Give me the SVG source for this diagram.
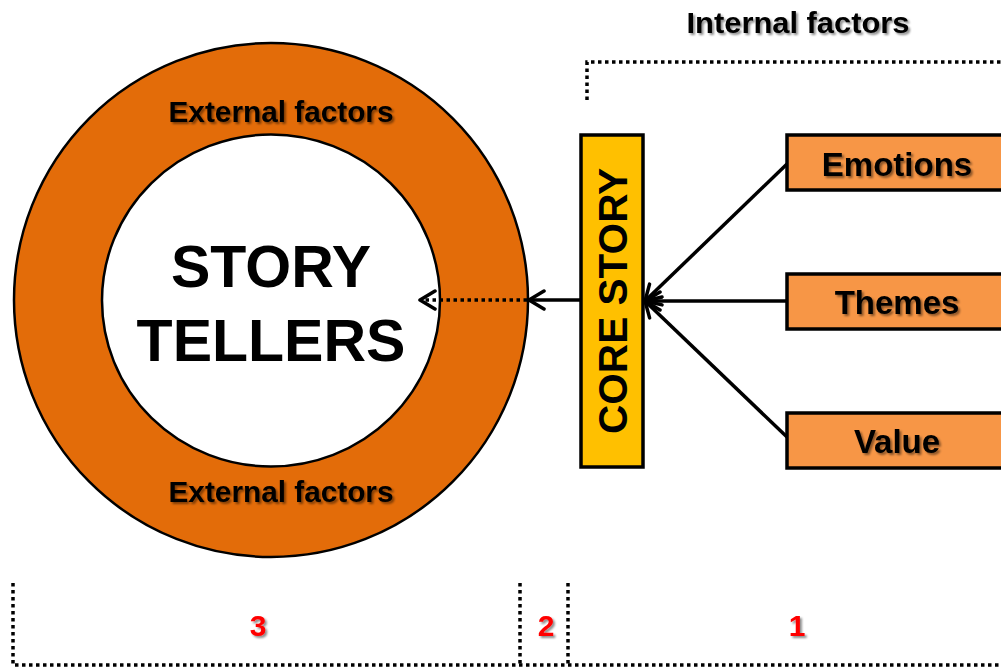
<svg xmlns="http://www.w3.org/2000/svg" width="1001" height="668" viewBox="0 0 1001 668">
<defs>
<marker id="open" viewBox="0 0 22 22" refX="19" refY="11" markerWidth="22" markerHeight="22" markerUnits="userSpaceOnUse" orient="auto">
<path d="M4,2 L19,11 L4,20" fill="none" stroke="#000" stroke-width="3.5" stroke-linecap="round" stroke-linejoin="round"/>
</marker>
<filter id="sh" x="-10%" y="-20%" width="130%" height="160%">
<feDropShadow dx="2" dy="2" stdDeviation="1.2" flood-color="#000" flood-opacity="0.45"/>
</filter>
</defs>
<style>
text{font-family:"Liberation Sans",Arial,sans-serif;font-weight:bold;text-anchor:middle;fill:#000}
.lbl{font-size:33px;filter:url(#sh)}
.ext{font-size:29px;filter:url(#sh)}
.big{font-size:59px}
.num{font-size:30px;fill:#FF0000;filter:url(#sh)}
.box{fill:#F79646;stroke:#000;stroke-width:3.5}
.dot{fill:none;stroke:#000;stroke-width:3.5;stroke-dasharray:3.5 3.5}
.conn{stroke:#000;stroke-width:3.5;fill:none}
</style>
<rect width="1001" height="668" fill="#fff"/>

<g id="storytellers">
<circle cx="271" cy="300" r="257" fill="#E36C09" stroke="#000" stroke-width="2.5"/>
<ellipse cx="271" cy="300.5" rx="169" ry="166" fill="#fff" stroke="#000" stroke-width="2.5"/>
<text class="ext" x="281" y="122" textLength="225" lengthAdjust="spacingAndGlyphs">External factors</text>
<text class="ext" x="281" y="502" textLength="225" lengthAdjust="spacingAndGlyphs">External factors</text>
<text class="big" x="271" y="287">STORY</text>
<text class="big" x="271" y="361">TELLERS</text>
</g>

<g id="core-story">
<rect x="581" y="135" width="62" height="332" fill="#FFC000" stroke="#000" stroke-width="3.5"/>
<text transform="translate(627,301) rotate(-90)" style="font-size:41px" x="0" y="0" textLength="266" lengthAdjust="spacingAndGlyphs">CORE STORY</text>
</g>

<g id="emotions">
<rect class="box" x="787" y="135" width="230" height="55"/>
<text class="lbl" x="897" y="176">Emotions</text>
</g>
<g id="themes">
<rect class="box" x="787" y="274" width="230" height="55"/>
<text class="lbl" x="897" y="314">Themes</text>
</g>
<g id="value">
<rect class="box" x="787" y="413" width="230" height="55"/>
<text class="lbl" x="897" y="453">Value</text>
</g>

<g id="internal-factors">
<text class="ext" x="798" y="33" textLength="223" lengthAdjust="spacingAndGlyphs">Internal factors</text>
<path class="dot" d="M587,100 V62 H1001"/>
</g>

<g id="connectors">
<line class="conn" x1="787" y1="164" x2="645" y2="301" marker-end="url(#open)"/>
<line class="conn" x1="787" y1="301" x2="645" y2="301" marker-end="url(#open)"/>
<line class="conn" x1="787" y1="437" x2="645" y2="301" marker-end="url(#open)"/>
<line class="conn" x1="581" y1="300" x2="529" y2="300" marker-end="url(#open)"/>
<line class="conn" x1="527" y1="300" x2="420" y2="300" stroke-dasharray="3.5 3.5" marker-end="url(#open)"/>
</g>

<g id="sections">
<path class="dot" d="M13,583 V665 H1001"/>
<path class="dot" d="M520,583 V665"/>
<path class="dot" d="M568,583 V665"/>
<text class="num" x="258" y="636">3</text>
<text class="num" x="546" y="636">2</text>
<text class="num" x="797" y="636">1</text>
</g>
</svg>
